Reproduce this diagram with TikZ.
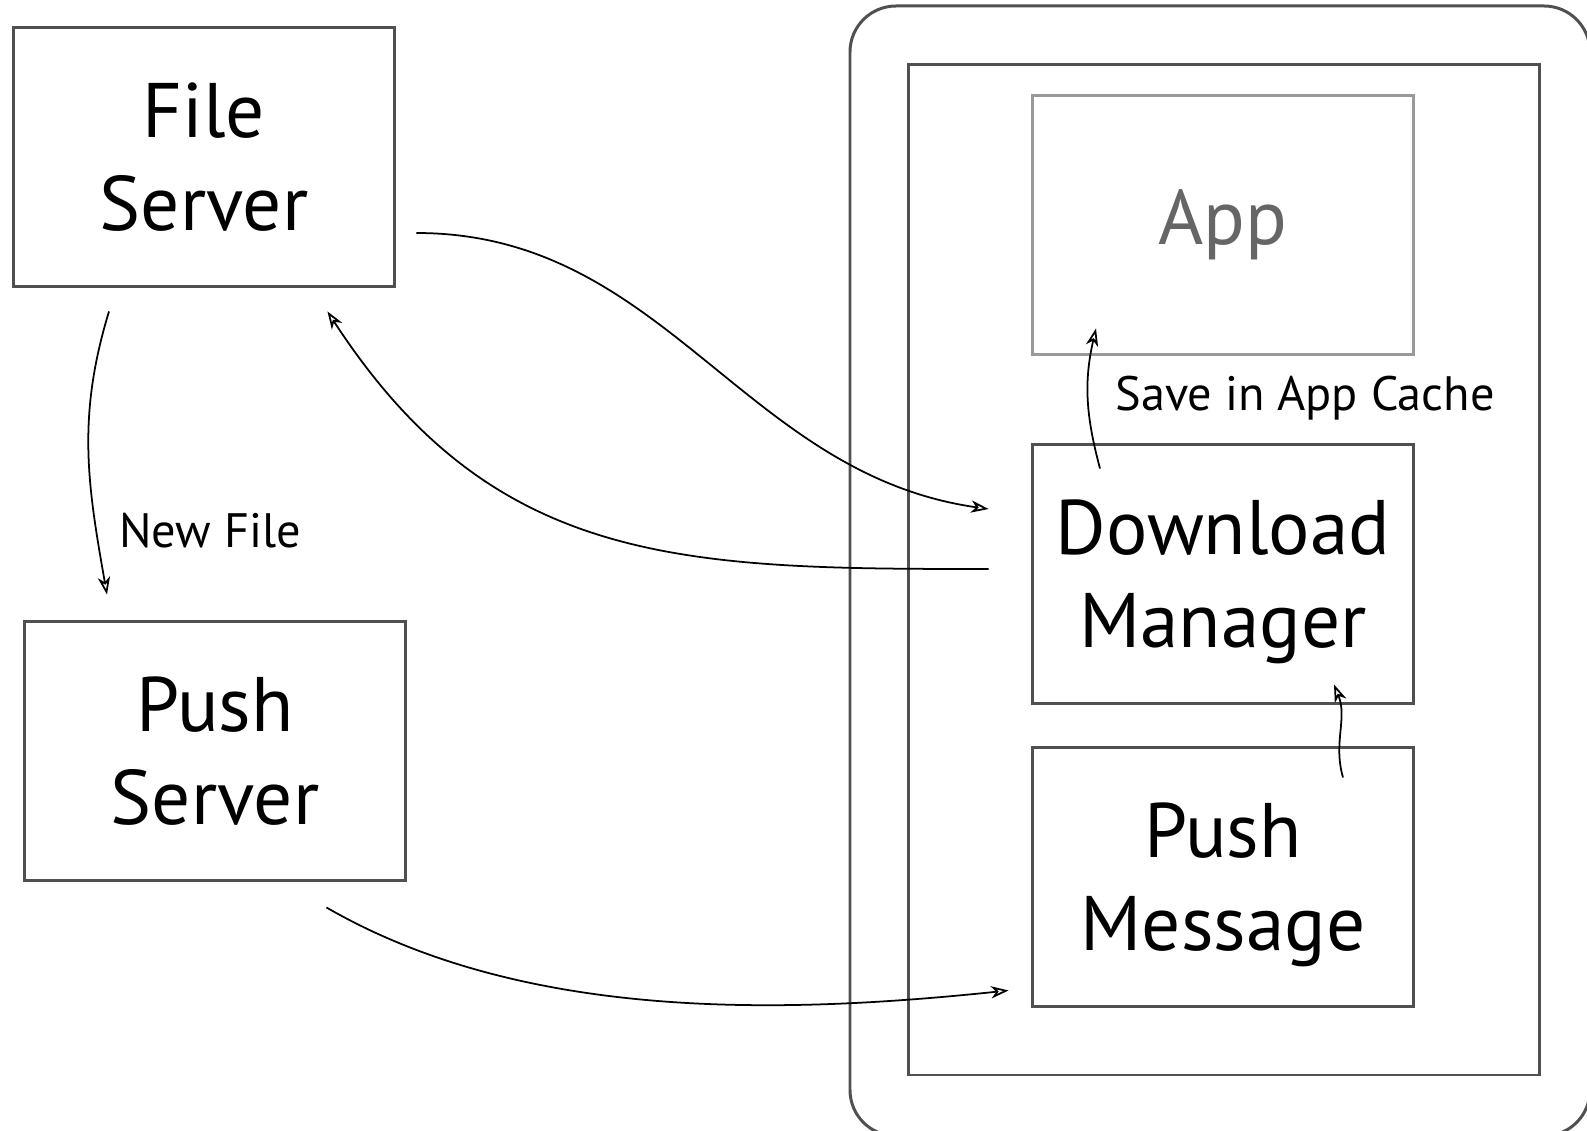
\documentclass[tikz,border=0pt]{standalone}
\usepackage{fontspec}
\setmainfont{PT Sans}
\usetikzlibrary{arrows.meta,calc}
\definecolor{BoxClr}{RGB}{80,80,80}
\definecolor{AppClr}{RGB}{153,153,153}
\definecolor{AppTxt}{RGB}{102,102,102}

\begin{document}
\begin{tikzpicture}[x=0.02cm,y=-0.02cm,
  blok/.style={draw=BoxClr,line width=1.7pt,minimum width=7.64cm,minimum height=5.2cm,
    align=center,inner sep=0pt,font=\fontsize{44}{53}\selectfont},
  lbl/.style={font=\fontsize{27.5}{32}\selectfont},
  flow/.style={line width=1pt,-{Stealth[open,length=10pt,width=7pt,inset=3pt]}}]
\useasboundingbox (0,0) rectangle (1587,1131);

% Συσκευή.
\draw[BoxClr,line width=1.7pt,rounded corners=0.92cm] (850,6) rectangle (1590,1136);
\draw[BoxClr,line width=1.7pt] (908,65) rectangle (1539,1075);

% Κόμβοι.
\node[blok] (fs) at (204,157) {File\\Server};
\node[blok] (ps) at (215,751) {Push\\Server};
\node[blok,draw=AppClr,text=AppTxt] (app) at (1223,225) {App};
\node[blok] (dm) at (1223,574) {Download\\\smash{Manager}};
\node[blok] (pm) at (1223,877) {Push\\\smash{Message}};

% Ετικέτες.
\node[lbl] (nf) at (210,531) {New File};
\node[lbl] (sc) at (1305,398) {Save in App Cache};

% Βέλη.
\draw[flow] ($(fs.east)+(20,76)$) to[out=0,in=172] ($(dm.west)+(-42,-65)$);
\draw[flow] ($(dm.west)+(-42,-5)$) to[out=180,in=-57,looseness=1.1] ($(fs.south east)+(-69,23)$);
\draw[flow] ($(fs.south)+(-95,23)$) to[out=253,in=100] ($(ps.north)+(-108,-25)$);
\draw[flow] ($(ps.south east)+(-81,25)$) to[out=-30,in=186,looseness=0.85] ($(pm.south west)+(-22,-18)$);
\draw[flow] ($(pm.north)+(120,32)$) to[out=106,in=-68] ($(dm.south)+(111,-21)$);
\draw[flow] ($(dm.north)+(-123,26)$) to[out=105,in=257] ($(app.south)+(-127,-28)$);

\end{tikzpicture}
\end{document}
